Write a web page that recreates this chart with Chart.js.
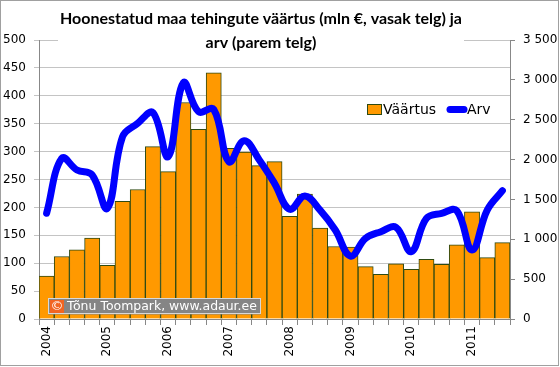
<!DOCTYPE html>
<html><head><meta charset="utf-8">
<script src="https://cdn.jsdelivr.net/npm/chart.js@4/dist/chart.umd.min.js"></script>
<style>html,body{margin:0;padding:0;background:#fff}canvas{display:block}</style>
</head><body>
<canvas id="c" width="560" height="367"></canvas>
<script>
const categories = [
  '2004 I','2004 II','2004 III','2004 IV',
  '2005 I','2005 II','2005 III','2005 IV',
  '2006 I','2006 II','2006 III','2006 IV',
  '2007 I','2007 II','2007 III','2007 IV',
  '2008 I','2008 II','2008 III','2008 IV',
  '2009 I','2009 II','2009 III','2009 IV',
  '2010 I','2010 II','2010 III','2010 IV',
  '2011 I','2011 II','2011 III'
];
const yearTickLabels = [
  '2004','','','', '2005','','','', '2006','','','', '2007','','','',
  '2008','','','', '2009','','','', '2010','','','', '2011','',''
];
// Väärtus, mln € (left axis)
const vaartus = [77,112,124,145, 96,211,232,309, 264,388,340,441, 306,299,275,282,
                 184,224,163,130, 129,94,80,99, 89,107,98,133, 192,110,137];
// Arv (right axis)
const arv = [1326,2016,1869,1806, 1388,2287,2455,2588, 2036,2964,2601,2630, 1973,2237,1995,1702,
             1376,1543,1365,1116, 790,1012,1095,1150, 845,1263,1326,1359, 866,1367,1610];
const titleLines = ['Hoonestatud maa tehingute väärtus (mln €, vasak telg) ja', 'arv (parem telg)'];
const seriesNames = ['Väärtus', 'Arv'];
const copyrightText = 'Tõnu Toompark, www.adaur.ee';

const AX = '"DejaVu Sans", Verdana, sans-serif';
const ORANGE = '#FF9900', BARLINE = '#2E4A12', BLUE = '#0000FF';

function fmtSpace(v){
  v = Math.round(v);
  if (v >= 1000) return Math.floor(v/1000) + ' ' + String(v % 1000).padStart(3,'0');
  return String(v);
}
function fitFont(ctx, text, weight, family, targetW){
  ctx.font = weight + ' 20px ' + family;
  const w = ctx.measureText(text).width;
  return 20 * targetW / w;
}

const overlay = {
  id: 'overlay',
  afterDraw(chart){
    const ctx = chart.ctx;
    ctx.save();
    // title with white background
    ctx.fillStyle = '#fff';
    ctx.fillRect(58, 35, 406, 10);
    const tf = '"Lato", "Open Sans", sans-serif';
    const fs = fitFont(ctx, titleLines[0], 'bold', tf, 402);
    ctx.font = 'bold ' + fs.toFixed(2) + 'px ' + tf;
    ctx.fillStyle = '#000';
    ctx.textAlign = 'center';
    ctx.textBaseline = 'middle';
    ctx.fillText(titleLines[0], 261, 18.5);
    ctx.fillText(titleLines[1], 261, 42.5);

    // legend
    ctx.fillStyle = ORANGE;
    ctx.fillRect(367.5, 104.5, 14, 10);
    ctx.strokeStyle = BARLINE; ctx.lineWidth = 1;
    ctx.strokeRect(367.5, 104.5, 14, 10);
    ctx.font = '14px ' + AX;
    ctx.fillStyle = '#000';
    ctx.textAlign = 'left';
    ctx.fillText(seriesNames[0], 383, 110);
    ctx.strokeStyle = BLUE; ctx.lineWidth = 7; ctx.lineCap = 'round';
    ctx.beginPath(); ctx.moveTo(450, 109.5); ctx.lineTo(464, 109.5); ctx.stroke();
    ctx.fillText(seriesNames[1], 467, 110);

    // copyright box
    ctx.lineCap = 'butt';
    ctx.fillStyle = '#858585';
    ctx.fillRect(48, 298.5, 213, 16);
    ctx.strokeStyle = '#D8D8D8'; ctx.lineWidth = 1;
    ctx.strokeRect(48.5, 298.5, 212, 15);
    ctx.fillStyle = '#F26522';
    ctx.fillRect(50, 300, 14, 13);
    ctx.fillStyle = '#fff';
    ctx.font = '13px ' + AX;
    ctx.textAlign = 'center';
    ctx.fillText('©', 57, 307);
    const cf = fitFont(ctx, copyrightText, 'normal', AX, 190);
    ctx.font = cf.toFixed(2) + 'px ' + AX;
    ctx.textAlign = 'left';
    ctx.fillText(copyrightText, 67, 307);

    // outer border
    ctx.strokeStyle = '#A0A0A0'; ctx.lineWidth = 1;
    ctx.strokeRect(0.5, 0.5, 558, 365);
    ctx.restore();
  }
};

new Chart(document.getElementById('c'), {
  data: {
    labels: categories,
    datasets: [
      { type: 'line', label: seriesNames[1], data: arv, yAxisID: 'y1', order: 0,
        borderColor: BLUE, borderWidth: 7, pointRadius: 0, tension: 0.4,
        borderCapStyle: 'round', borderJoinStyle: 'round', fill: false },
      { type: 'bar', label: seriesNames[0], data: vaartus, yAxisID: 'y', order: 1,
        backgroundColor: ORANGE, borderColor: BARLINE, borderWidth: 1,
        barPercentage: 1, categoryPercentage: 1 }
    ]
  },
  options: {
    responsive: false, animation: false,
    layout: { padding: { top: 40, left: 0, right: 0, bottom: 0 } },
    plugins: { legend: { display: false }, title: { display: false }, tooltip: { enabled: false } },
    scales: {
      x: {
        offset: true,
        grid: { display: true, drawOnChartArea: false, drawTicks: true, tickLength: 6, color: '#888', offset: true },
        border: { color: '#888' },
        ticks: { autoSkip: false, minRotation: 90, maxRotation: 90, padding: 1,
                 color: '#000', font: { family: AX, size: 12 },
                 callback: (v, i) => yearTickLabels[i] },
        afterFit: s => { s.height = 48; }
      },
      y: {
        position: 'left', min: 0, max: 500,
        grid: { color: '#C4C4C4', tickLength: 5 },
        border: { color: '#888' },
        ticks: { stepSize: 50, padding: 8, color: '#000', font: { family: AX, size: 12 } },
        afterFit: s => { s.width = 39; }
      },
      y1: {
        position: 'right', min: 0, max: 3500,
        grid: { drawOnChartArea: false, color: '#888', tickLength: 5 },
        border: { color: '#888' },
        ticks: { stepSize: 500, padding: 8, color: '#000', font: { family: AX, size: 12 },
                 callback: v => fmtSpace(v) },
        afterFit: s => { s.width = 50; }
      }
    }
  },
  plugins: [overlay]
});
</script>
</body></html>
